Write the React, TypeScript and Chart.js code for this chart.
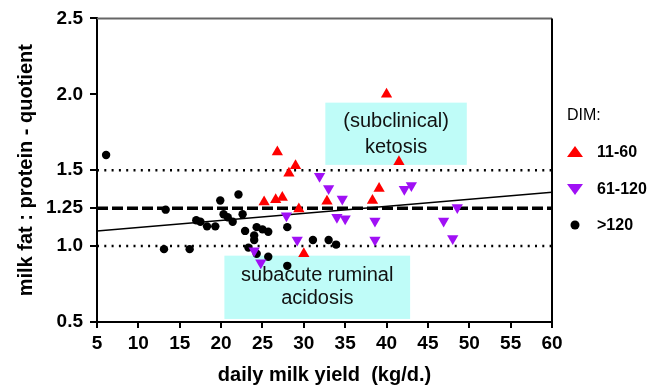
import React, { useEffect, useRef } from 'react';
import { Chart, registerables } from 'chart.js';

Chart.register(...registerables);

// ---- data ----
const dim11to60X = [25.2, 26.6, 26.8, 27.4, 28.2, 29.0, 29.4, 30.0, 32.8, 38.3, 39.1, 40.0, 41.5];
const dim11to60Y = [1.29, 1.305, 1.62, 1.32, 1.48, 1.53, 1.245, 0.95, 1.295, 1.30, 1.38, 2.0, 1.555];

const dim61to120X = [24.0, 24.8, 27.9, 29.2, 31.9, 33.0, 34.0, 34.65, 35.0, 38.6, 38.6, 42.15, 43.0, 46.9, 48.0, 48.55];
const dim61to120Y = [0.97, 0.89, 1.2, 1.04, 1.46, 1.38, 1.19, 1.31, 1.18, 1.165, 1.04, 1.375, 1.4, 1.165, 1.05, 1.255];

const dimOver120X = [6.1, 13.3, 13.1, 16.2, 17.0, 17.5, 18.3, 19.3, 19.9, 20.3, 20.8, 21.4, 22.1, 22.6, 22.9, 23.3, 24.0, 24.0, 24.3, 24.3, 25.0, 25.7, 25.7, 28.0, 28.0, 31.1, 33.0, 33.9];
const dimOver120Y = [1.6, 1.24, 0.98, 0.98, 1.17, 1.16, 1.13, 1.13, 1.3, 1.21, 1.19, 1.16, 1.34, 1.21, 1.1, 0.99, 1.07, 1.04, 1.125, 0.95, 1.11, 1.095, 0.93, 1.125, 0.87, 1.04, 1.04, 1.01];

const regressionX = [5, 60];
const regressionY = [1.1, 1.355];

const thresholdDotted = [1.0, 1.5];
const thresholdDashed = 1.25;

const yTickValues = [0.5, 1.0, 1.25, 1.5, 2.0, 2.5];
const yTickLabels = ['0.5', '1.0', '1.25', '1.5', '2.0', '2.5'];

const legendTitle = 'DIM:';
const seriesLabels = ['11-60', '61-120', '>120'];

const ketosisBox = { xMin: 32.6, xMax: 49.7, yMin: 1.535, yMax: 1.945, lines: ['(subclinical)', 'ketosis'] };
const acidosisBox = { xMin: 20.4, xMax: 42.85, yMin: 0.52, yMax: 0.937, lines: ['subacute ruminal', 'acidosis'] };

const RED = '#FF0000';
const PURPLE = '#A010F5';
const BLACK = '#000000';
const CYAN = '#BFFCF8';
const FONT = '"Liberation Sans", Arial, sans-serif';

const zip = (xs: number[], ys: number[]) => xs.map((x, i) => ({ x, y: ys[i] }));

const overlayPlugin = {
  id: 'overlay',
  beforeDatasetsDraw(chart: any) {
    const { ctx, scales } = chart;
    const x = scales.x, y = scales.y;
    [ketosisBox, acidosisBox].forEach((b, bi) => {
      const l = x.getPixelForValue(b.xMin);
      const r = x.getPixelForValue(b.xMax);
      const t = y.getPixelForValue(b.yMax);
      const bt = y.getPixelForValue(b.yMin);
      ctx.save();
      ctx.fillStyle = CYAN;
      ctx.fillRect(l, t, r - l, bt - t);
      ctx.fillStyle = '#111';
      ctx.font = `20px ${FONT}`;
      ctx.textAlign = 'center';
      ctx.textBaseline = 'middle';
      const offs = bi === 0 ? [19, 45] : [20, 43];
      b.lines.forEach((s, i) => ctx.fillText(s, (l + r) / 2, t + offs[i]));
      ctx.restore();
    });
  },
  afterDraw(chart: any) {
    const { ctx, chartArea } = chart;
    ctx.save();
    // top border
    ctx.strokeStyle = '#666';
    ctx.lineWidth = 2;
    ctx.beginPath();
    ctx.moveTo(chartArea.left, chartArea.top);
    ctx.lineTo(chartArea.right, chartArea.top);
    ctx.stroke();
    // right border
    ctx.strokeStyle = '#000';
    ctx.beginPath();
    ctx.moveTo(chartArea.right, chartArea.top);
    ctx.lineTo(chartArea.right, chartArea.bottom);
    ctx.stroke();

    // legend
    const lx = chartArea.right + 15;
    const sx = lx + 8;
    const tx = lx + 30;
    ctx.fillStyle = '#000';
    ctx.textAlign = 'left';
    ctx.textBaseline = 'middle';
    ctx.font = `16px ${FONT}`;
    ctx.fillText(legendTitle, lx, 116);
    ctx.font = `bold 16px ${FONT}`;
    const rows = [152, 189, 225];
    ctx.fillStyle = RED;
    ctx.beginPath();
    ctx.moveTo(sx, rows[0] - 6);
    ctx.lineTo(sx + 8, rows[0] + 5);
    ctx.lineTo(sx - 8, rows[0] + 5);
    ctx.closePath();
    ctx.fill();
    ctx.fillStyle = PURPLE;
    ctx.beginPath();
    ctx.moveTo(sx - 8, rows[1] - 5);
    ctx.lineTo(sx + 8, rows[1] - 5);
    ctx.lineTo(sx, rows[1] + 6);
    ctx.closePath();
    ctx.fill();
    ctx.fillStyle = BLACK;
    ctx.beginPath();
    ctx.arc(sx, rows[2], 4.5, 0, Math.PI * 2);
    ctx.fill();
    ctx.fillStyle = '#000';
    seriesLabels.forEach((s, i) => ctx.fillText(s, tx, rows[i] + 1));
    ctx.restore();
  },
};

export default function App() {
  const ref = useRef<HTMLCanvasElement | null>(null);
  useEffect(() => {
    if (!ref.current) return;
    const hLine = (v: number) => [{ x: 5, y: v }, { x: 60, y: v }];
    const chart = new Chart(ref.current, {
      type: 'scatter',
      data: {
        datasets: [
          {
            label: seriesLabels[0],
            data: zip(dim11to60X, dim11to60Y),
            pointStyle: 'triangle',
            pointRadius: 6.5,
            pointBorderWidth: 0,
            backgroundColor: RED,
            borderColor: RED,
            order: 1,
          },
          {
            label: seriesLabels[1],
            data: zip(dim61to120X, dim61to120Y),
            pointStyle: 'triangle',
            pointRotation: 180,
            pointRadius: 6.5,
            pointBorderWidth: 0,
            backgroundColor: PURPLE,
            borderColor: PURPLE,
            order: 1,
          },
          {
            label: seriesLabels[2],
            data: zip(dimOver120X, dimOver120Y),
            pointStyle: 'circle',
            pointRadius: 4.2,
            pointBorderWidth: 0,
            backgroundColor: BLACK,
            borderColor: BLACK,
            order: 1,
          },
          {
            label: 'regression',
            type: 'line',
            data: zip(regressionX, regressionY),
            borderColor: '#000',
            borderWidth: 1.5,
            pointRadius: 0,
            showLine: true,
            order: 2,
          },
          {
            label: 'dashed',
            type: 'line',
            data: hLine(thresholdDashed),
            borderColor: '#000',
            borderWidth: 3.5,
            borderDash: [11, 4],
            pointRadius: 0,
            showLine: true,
            order: 3,
          },
          ...thresholdDotted.map((v) => ({
            label: 'dotted' + v,
            type: 'line' as const,
            data: hLine(v),
            borderColor: '#000',
            borderWidth: 2.5,
            borderDash: [2, 5.3],
            pointRadius: 0,
            showLine: true,
            order: 3,
          })),
        ] as any,
      },
      options: {
        animation: false,
        responsive: false,
        layout: { padding: { left: 0, top: 15, right: 109, bottom: 0 } },
        plugins: { legend: { display: false }, tooltip: { enabled: false } },
        scales: {
          x: {
            type: 'linear',
            min: 5,
            max: 60,
            ticks: { stepSize: 5, color: '#000', padding: 4, font: { family: FONT, size: 19, weight: 'bold' } },
            grid: { display: true, drawOnChartArea: false, drawTicks: true, tickLength: 6, color: '#000', lineWidth: 2 },
            border: { display: true, color: '#000', width: 2 },
            title: {
              display: true,
              text: 'daily milk yield  (kg/d.)',
              color: '#000',
              font: { family: FONT, size: 20, weight: 'bold' },
              padding: { top: 0, bottom: 1 },
            },
            afterFit: (s: any) => { s.height = 66; },
          },
          y: {
            type: 'linear',
            min: 0.5,
            max: 2.5,
            afterBuildTicks: (s: any) => { s.ticks = yTickValues.map((v) => ({ value: v })); },
            ticks: {
              color: '#000',
              padding: 7,
              font: { family: FONT, size: 19, weight: 'bold' },
              callback: (v: any) => yTickLabels[yTickValues.indexOf(Number(v))] ?? '',
            },
            grid: { display: true, drawOnChartArea: false, drawTicks: true, tickLength: 7, color: '#000', lineWidth: 2 },
            border: { display: true, color: '#000', width: 2 },
            title: {
              display: true,
              text: 'milk fat : protein - quotient',
              color: '#000',
              font: { family: FONT, size: 20, weight: 'bold' },
              padding: { top: 14, bottom: 0 },
            },
            afterFit: (s: any) => { s.width = 97; },
          },
        },
      },
      plugins: [overlayPlugin],
    } as any);
    return () => chart.destroy();
  }, []);
  return (
    <div style={{ position: 'absolute', left: 0, top: 0, width: 661, height: 388, background: '#fff' }}>
      <canvas ref={ref} width={661} height={388} />
    </div>
  );
}
